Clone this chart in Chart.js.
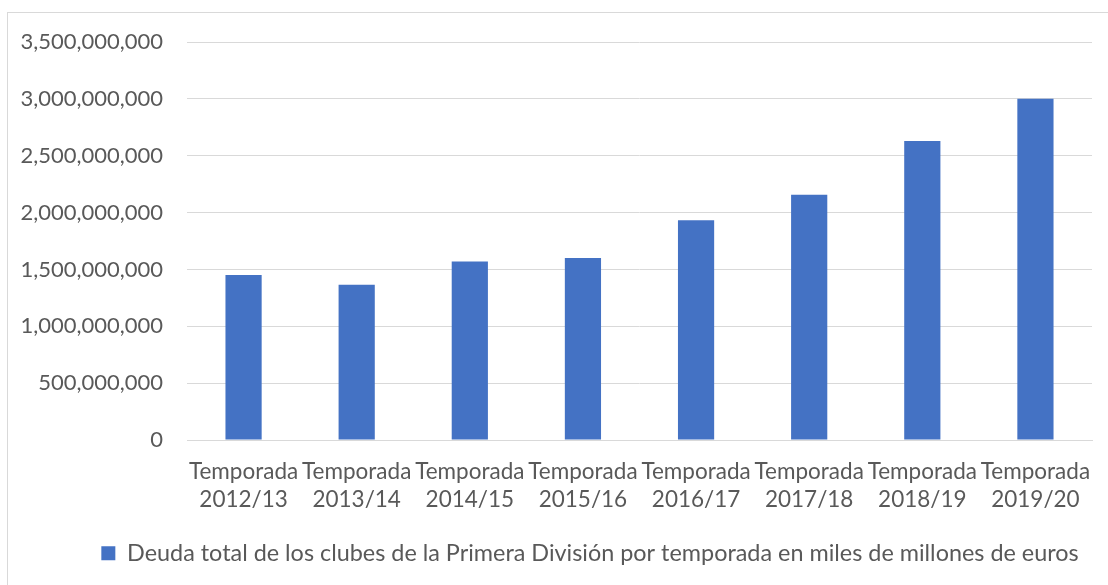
<!DOCTYPE html>
<html>
<head>
<meta charset="utf-8">
<script src="https://cdn.jsdelivr.net/npm/chart.js@4/dist/chart.umd.min.js"></script>
<style>
  html, body { margin: 0; padding: 0; background: #fff; overflow: hidden; }
  #frame {
    position: absolute; left: 7px; top: 12px;
    width: 1164px; height: 580px;
    border-left: 1px solid #d9d9d9; border-top: 1px solid #d9d9d9;
  }
  #wrap { position: absolute; left: 0; top: 0; width: 1164px; height: 572px; }
</style>
</head>
<body>
<div id="frame"><div id="wrap"><canvas id="debtChart"></canvas></div></div>
<script>
// seasons and total debt (euros)
const seasons = ["2012/13", "2013/14", "2014/15", "2015/16", "2016/17", "2017/18", "2018/19", "2019/20"];
const debtValues = [1452000000, 1365000000, 1570000000, 1600000000, 1933000000, 2158000000, 2629000000, 3000000000];
const seriesLabel = "Deuda total de los clubes de la Primera División por temporada en miles de millones de euros";
const yMax = 3500000000;
const yStep = 500000000;

const textColor = "#595959";
const gridColor = "#d9d9d9";
const fontFamily = "Lato, 'Open Sans', sans-serif";

const ctx = document.getElementById("debtChart").getContext("2d");

// legend in the original is centred on a box that starts right of the y labels
const legendShift = {
    id: "legendShift",
    afterLayout: function (chart) {
        if (chart.legend) chart.legend.left = 80;
    }
};

new Chart(ctx, {
    type: "bar",
    data: {
        labels: seasons.map(s => ["Temporada", s]),
        datasets: [{
            label: seriesLabel,
            data: debtValues,
            backgroundColor: "#4472C4",
            borderWidth: 0,
            barPercentage: 0.32,
            categoryPercentage: 1
        }]
    },
    options: {
        responsive: true,
        maintainAspectRatio: false,
        animation: false,
        layout: { padding: { top: 29, right: 80, bottom: 10, left: 0 } },
        plugins: {
            tooltip: { enabled: false },
            legend: {
                position: "bottom",
                labels: {
                    boxWidth: 14,
                    boxHeight: 14,
                    padding: 15,
                    color: textColor,
                    font: { family: fontFamily, size: 23.4 }
                }
            }
        },
        scales: {
            x: {
                grid: { display: false, drawTicks: false },
                border: { display: true, color: gridColor, width: 1 },
                ticks: {
                    color: textColor,
                    font: { family: fontFamily, size: 22.5, lineHeight: 1.245 },
                    padding: 18,
                    maxRotation: 0,
                    autoSkip: false
                },
                afterFit: function (scale) { scale.height = 86.5; }
            },
            y: {
                min: 0,
                max: yMax,
                grid: { color: gridColor, lineWidth: 1, drawTicks: false },
                border: { display: false },
                ticks: {
                    stepSize: yStep,
                    padding: 24,
                    color: textColor,
                    font: { family: fontFamily, size: 22 },
                    callback: function (value) {
                        return value.toLocaleString("en-US");
                    }
                },
                afterFit: function (scale) {
                    scale.width = 179;
                    scale.paddingTop = 10;
                    scale.paddingBottom = 10;
                }
            }
        }
    },
    plugins: [legendShift]
});
</script>
</body>
</html>
